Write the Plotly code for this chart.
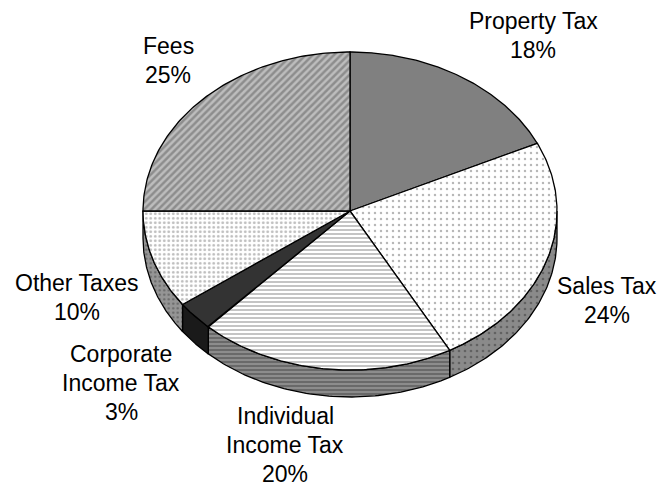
import numpy as np
import plotly.graph_objects as go

# ---- data ----
categories = ["Property Tax", "Sales Tax", "Individual Income Tax",
              "Corporate Income Tax", "Other Taxes", "Fees"]
shares = [18, 24, 20, 3, 10, 25]
label_names = ["Property Tax", "Sales Tax", "Individual|Income Tax",
               "Corporate|Income Tax", "Other Taxes", "Fees"]

# ---- styles / layout (not data) ----
W, H = 669, 483
CX, CY, RX, RY, DEPTH = 350, 211, 207, 159, 27
LINE_GAP = 29
label_pos = [(533, 35), (607, 300), (285, 445), (121, 383), (77, 297), (168, 60)]

top_styles = [
    dict(fillcolor="#808080"),
    dict(fillpattern=dict(shape=".", fgcolor="#707070", bgcolor="#ffffff", size=6, solidity=0.13)),
    dict(fillpattern=dict(shape="-", fgcolor="#8a8a8a", bgcolor="#ffffff", size=4, solidity=0.5)),
    dict(fillcolor="#333333"),
    dict(fillpattern=dict(shape=".", fgcolor="#7a7a7a", bgcolor="#ffffff", size=4.5, solidity=0.3)),
    dict(fillpattern=dict(shape="/", fgcolor="#5e5e5e", bgcolor="#bdbdbd", size=5, solidity=0.5)),
]
side_styles = [
    dict(fillcolor="#555555"),
    dict(fillpattern=dict(shape=".", fgcolor="#3a3a3a", bgcolor="#8a8a8a", size=6, solidity=0.16)),
    dict(fillpattern=dict(shape="-", fgcolor="#454545", bgcolor="#8c8c8c", size=4, solidity=0.5)),
    dict(fillcolor="#1a1a1a"),
    dict(fillpattern=dict(shape=".", fgcolor="#3a3a3a", bgcolor="#959595", size=4.5, solidity=0.22)),
    dict(fillcolor="#666666"),
]


def pt(theta_deg, dy=0.0):
    t = np.radians(theta_deg)
    return CX + RX * np.sin(t), CY - RY * np.cos(t) + dy


total = float(sum(shares))
bounds = np.concatenate([[0.0], np.cumsum(shares) / total * 360.0])

fig = go.Figure()
line = dict(color="black", width=1.3)

# side walls (front half only: 90..270 degrees clockwise from top)
for i, name in enumerate(categories):
    a1, a2 = max(bounds[i], 90.0), min(bounds[i + 1], 270.0)
    if a2 <= a1:
        continue
    th = np.linspace(a1, a2, 80)
    xs_t, ys_t = pt(th)
    xs_b, ys_b = pt(th[::-1], DEPTH)
    xs = np.concatenate([xs_t, xs_b, [xs_t[0]]])
    ys = np.concatenate([ys_t, ys_b, [ys_t[0]]])
    fig.add_trace(go.Scatter(x=xs, y=ys, mode="lines", fill="toself", line=line,
                             hoverinfo="skip", showlegend=False, **side_styles[i]))

# top faces
for i, name in enumerate(categories):
    th = np.linspace(bounds[i], bounds[i + 1], 120)
    xa, ya = pt(th)
    xs = np.concatenate([[CX], xa, [CX]])
    ys = np.concatenate([[CY], ya, [CY]])
    fig.add_trace(go.Scatter(x=xs, y=ys, mode="lines", fill="toself", line=line,
                             hoverinfo="skip", showlegend=False, name=name, **top_styles[i]))

# labels: one annotation per text line
for i, name in enumerate(label_names):
    lines = name.split("|") + [f"{shares[i]}%"]
    x, yc = label_pos[i]
    y0 = yc - LINE_GAP * (len(lines) - 1) / 2
    for k, txt in enumerate(lines):
        fig.add_annotation(x=x, y=y0 + k * LINE_GAP, xref="x", yref="y", text=txt,
                           showarrow=False, xanchor="center", yanchor="middle",
                           font=dict(family="Liberation Sans, Arial, sans-serif",
                                     size=23, color="black"))

fig.update_layout(
    width=W, height=H, margin=dict(l=0, r=0, t=0, b=0),
    paper_bgcolor="white", plot_bgcolor="white",
    xaxis=dict(range=[0, W], visible=False, fixedrange=True),
    yaxis=dict(range=[H, 0], visible=False, fixedrange=True),
    showlegend=False,
)

fig.write_html("out.html")
